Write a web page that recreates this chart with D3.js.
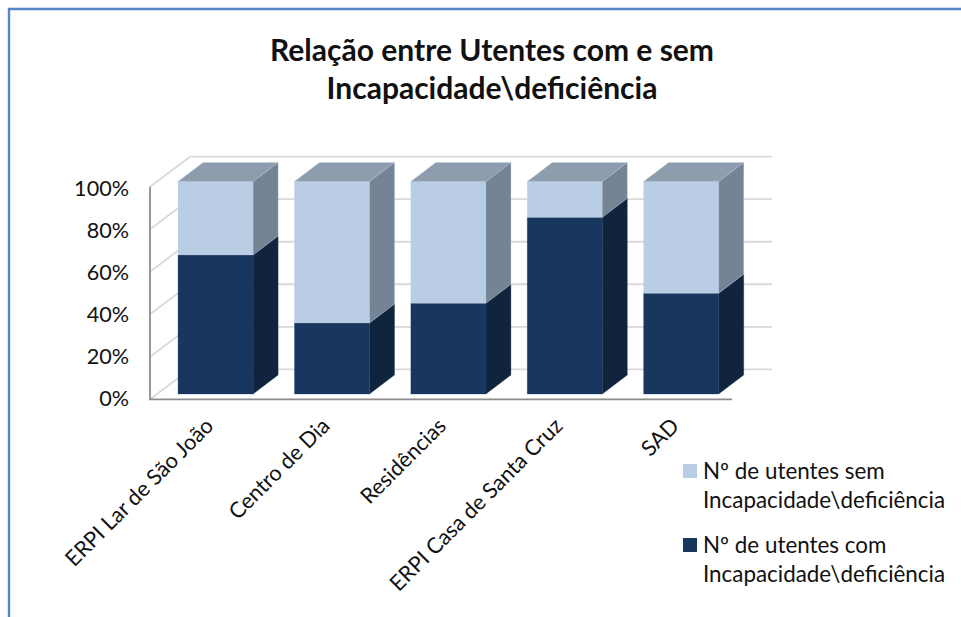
<!DOCTYPE html>
<html><head><meta charset="utf-8">
<style>html,body{margin:0;padding:0;background:#fff}svg{display:block}text{font-family:Lato,"Open Sans",sans-serif;fill:#111}</style>
<script src="https://cdn.jsdelivr.net/npm/d3@7"></script></head><body>
<svg id="c" width="961" height="617"></svg>
<script>
const categories=["ERPI Lar de São João","Centro de Dia","Residências","ERPI Casa de Santa Cruz","SAD"];
const comValues=[65.4,33.4,42.7,83.1,47.4];
const semValues=[34.6,66.6,57.3,16.9,52.6];
const seriesKeys=["com","sem"];
const tickValues=[0,20,40,60,80,100];
const titleLines=["Relação entre Utentes com e sem","Incapacidade\\deficiência"];
const legendLines=[["Nº de utentes sem","Incapacidade\\deficiência"],["Nº de utentes com","Incapacidade\\deficiência"]];
const colors={com:{front:"#17375e",side:"#10243e",top:"#10243e"},sem:{front:"#b9cde5",side:"#748494",top:"#8e9dae"}};

const svg=d3.select("#c");
const rows=categories.map((c,i)=>({c,com:comValues[i],sem:semValues[i]}));
const stacked=d3.stack().keys(seriesKeys)(rows);
const x=d3.scaleBand().domain(categories).range([150,732]).paddingInner(0.355).paddingOuter(0.1775);
const y=d3.scaleLinear().domain([0,100]).range([399.3,186.7]);
const wall={dx:40,dy:-30},inset={dx:7.4,dy:-5.3},depth={dx:25,dy:-19};

// outer frame
svg.append("path").attr("d","M9,617V9H961").attr("fill","none").attr("stroke","#5585c9").attr("stroke-width",2.4);

// walls and gridlines
const grid=svg.append("g").attr("fill","none").attr("stroke","#d9d9d9").attr("stroke-width",1.8);
tickValues.forEach(t=>{
  grid.append("path").attr("d",`M${x.range()[0]},${y(t)}l${wall.dx},${wall.dy}H${x.range()[1]+wall.dx}`);
});

// axes
const ax=svg.append("g").attr("fill","none").attr("stroke","#8c8c8c").attr("stroke-width",1.8);
ax.append("path").attr("d",`M${x.range()[0]},${y(100)}V${y(0)}H${x.range()[1]}`);

// bars
const bw=x.bandwidth();
stacked.forEach(s=>{
  const col=colors[s.key];
  const g=svg.append("g").attr("stroke",col.front).attr("stroke-opacity",0.35).attr("stroke-width",0.8);
  s.forEach((d,i)=>{
    const x0=x(categories[i])+inset.dx, x1=x0+bw;
    const yb=y(d[0])+inset.dy, yt=y(d[1])+inset.dy;
    g.append("rect").attr("x",x0).attr("y",yt).attr("width",bw).attr("height",yb-yt).attr("fill",col.front);
    g.append("path").attr("fill",col.side).attr("d",`M${x1},${yb}l${depth.dx},${depth.dy}V${yt+depth.dy}L${x1},${yt}Z`);
    if(s.key==="sem") g.append("path").attr("fill",col.top).attr("d",`M${x0},${yt}l${depth.dx},${depth.dy}h${bw}L${x1},${yt}Z`);
  });
});

// y tick labels
const yLabel=d3.scaleLinear().domain([0,100]).range([406,195.5]);
svg.append("g").selectAll("text").data(tickValues).join("text")
  .attr("x",129).attr("y",d=>yLabel(d)).attr("text-anchor","end").attr("font-size",21.6).text(d=>d+"%");

// x labels
svg.append("g").selectAll("text").data(categories).join("text")
  .attr("text-anchor","end").attr("font-size",21.7)
  .attr("transform",d=>`translate(${x(d)+bw/2+6.5},${y(0)+28}) rotate(-45)`).text(d=>d);

// title
svg.append("g").selectAll("text").data(titleLines).join("text")
  .attr("x",492).attr("y",(d,i)=>61+i*38).attr("text-anchor","middle").attr("font-size",30).attr("font-weight",700).text(d=>d);

// legend
const lg=svg.append("g");
legendLines.forEach((ls,i)=>{
  const ly=471+i*74;
  lg.append("rect").attr("x",683).attr("y",ly-7).attr("width",14).attr("height",14).attr("fill",colors[seriesKeys[1-i]].front);
  ls.forEach((t,j)=>lg.append("text").attr("x",703).attr("y",ly+8+j*29).attr("font-size",22.4).text(t));
});
</script></body></html>
